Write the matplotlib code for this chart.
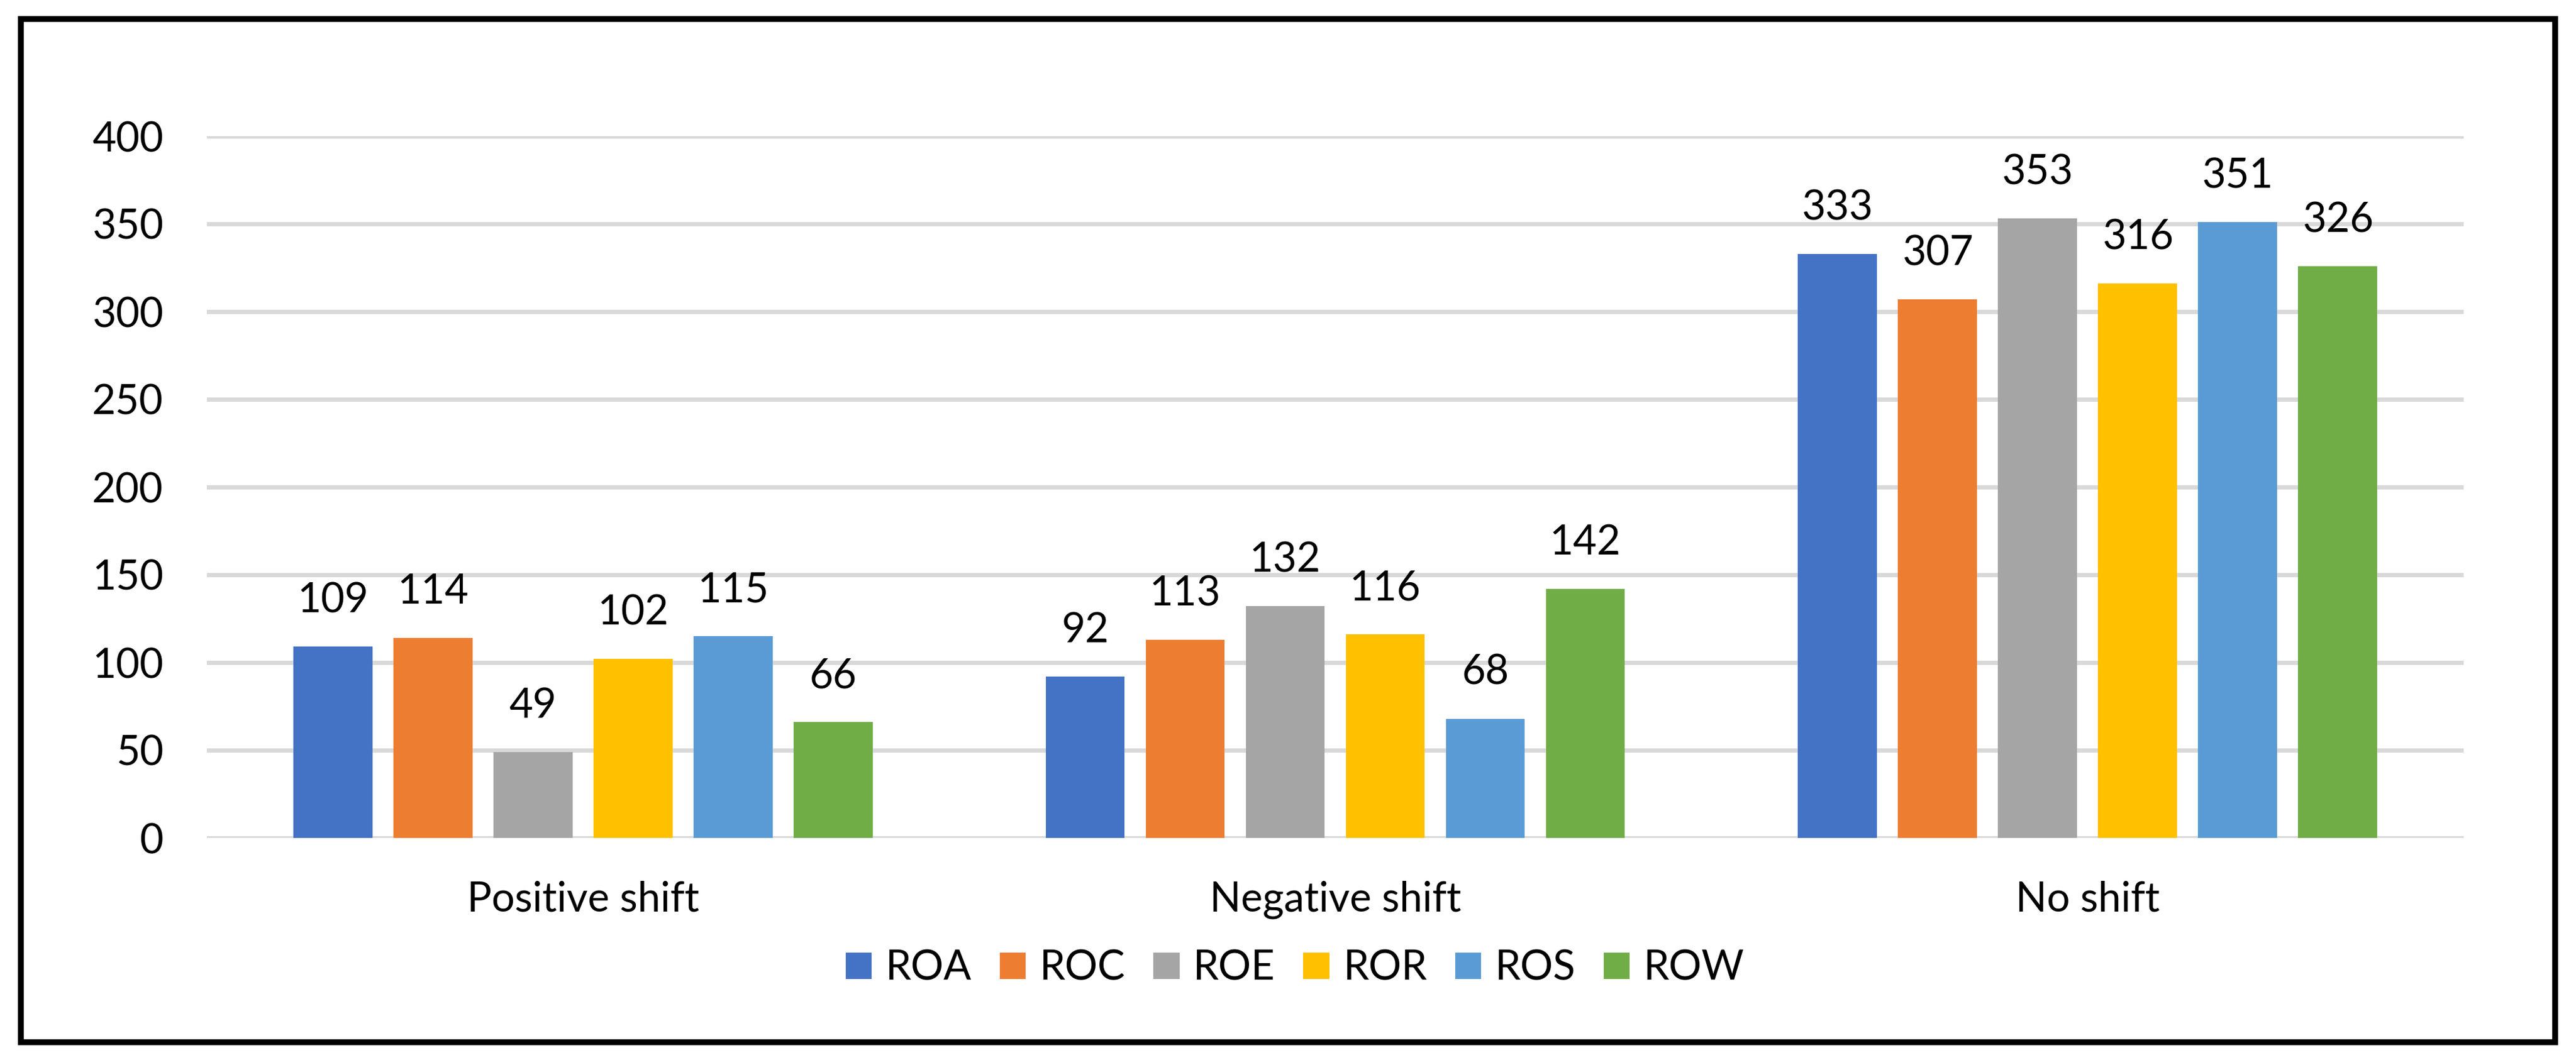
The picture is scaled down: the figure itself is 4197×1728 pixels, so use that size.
import matplotlib
matplotlib.use('Agg')
import matplotlib.pyplot as plt
from matplotlib.patches import Rectangle
import numpy as np

plt.rcParams['font.family'] = ['Lato', 'DejaVu Sans']

categories = ['Positive shift', 'Negative shift', 'No shift']
series     = ['ROA', 'ROC', 'ROE', 'ROR', 'ROS', 'ROW']
colors     = ['#4472C4', '#ED7D31', '#A5A5A5', '#FFC000', '#5B9BD5', '#70AD47']

roa = [109, 92, 333]
roc = [114, 113, 307]
roe = [49, 132, 353]
ror = [102, 116, 316]
ros = [115, 68, 351]
row = [66, 142, 326]
values = [roa, roc, roe, ror, ros, row]

yticks = [0, 50, 100, 150, 200, 250, 300, 350, 400]

FS = 48
W, H, DPI = 4197, 1728, 100

fig = plt.figure(figsize=(W / DPI, H / DPI), dpi=DPI)
ax = fig.add_axes([337 / W, 1 - 1366 / H, (4014 - 337) / W, (1366 - 222) / H])

x = np.arange(len(categories))
pitch = 0.133
width = 0.105
for j, (name, vals, c) in enumerate(zip(series, values, colors)):
    xs = x + (j - 2.5) * pitch
    bars = ax.bar(xs, vals, width=width, color=c, label=name, zorder=3)
    for b, v in zip(bars, vals):
        ax.annotate(str(v), (b.get_x() + b.get_width() / 2, v),
                    xytext=(0, 40), textcoords='offset points',
                    ha='center', va='baseline', fontsize=FS, color='black')

ax.set_xlim(-0.5, 2.5)
ax.set_ylim(0, 400)
ax.set_yticks(yticks)
ax.set_xticks(x)
ax.set_xticklabels(categories)
ax.tick_params(axis='both', length=0, labelsize=FS, colors='black')
ax.tick_params(axis='y', pad=51)
ax.tick_params(axis='x', pad=50)
ax.yaxis.grid(True, color='#D9D9D9', linewidth=5.0, zorder=0)
ax.set_axisbelow(True)
for s in ax.spines.values():
    s.set_visible(False)

fig.legend(loc='center', bbox_to_anchor=(2110 / W, 1 - 1579 / H), ncol=6,
           frameon=False, fontsize=FS, handlelength=0.64, handleheight=0.63,
           handletextpad=0.34, columnspacing=0.68, borderpad=0)

# black frame round the whole chart
lw_px = 9.5
x0, x1 = 29 + lw_px / 2, 4168 - lw_px / 2
y0, y1 = 26 + lw_px / 2, 1704 - lw_px / 2
fig.patches.append(Rectangle((x0 / W, 1 - y1 / H), (x1 - x0) / W, (y1 - y0) / H,
                             transform=fig.transFigure, fill=False,
                             edgecolor='black', linewidth=lw_px * 72 / DPI))

fig.savefig('out.png', dpi=DPI)
